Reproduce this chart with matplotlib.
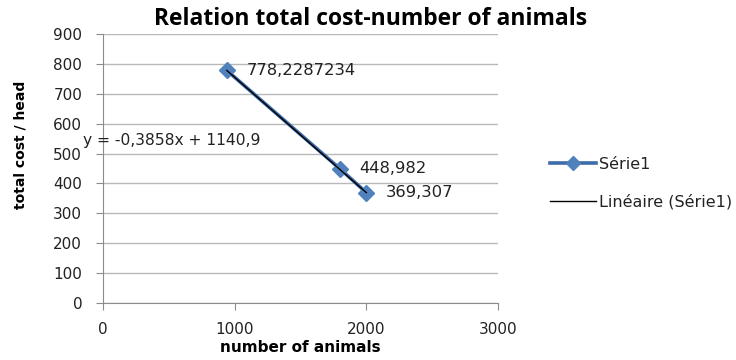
import numpy as np
import matplotlib
matplotlib.use("Agg")
import matplotlib.pyplot as plt
from matplotlib.lines import Line2D

plt.rcParams['font.family'] = ['DejaVu Sans']

# data
animals = [940, 1800, 2000]
cost = [778.2287234, 448.982, 369.307]
labels = ["778,2287234", "448,982", "369,307"]
slope = -0.3858
intercept = 1140.9
xticks = [0, 1000, 2000, 3000]
yticks = [0, 100, 200, 300, 400, 500, 600, 700, 800, 900]

blue = "#4f81bd"
line_blue = "#3d6ca8"
txt = "#222222"

W, H = 736, 360
fig = plt.figure(figsize=(W / 100, H / 100), dpi=100)
ax = fig.add_axes([103 / W, 1 - 303 / H, 395 / W, 269 / H])

# trend line (linear fit) drawn over the series
tx = np.array([min(animals), max(animals)])
ax.plot(tx, slope * tx + intercept, color="black", lw=1, zorder=4)
ax.plot(animals, cost, color=line_blue, lw=2.6, marker="D", ms=8,
        mfc=blue, mec=blue, zorder=3)

for x, y, t in zip(animals, cost, labels):
    ax.annotate(t, (x, y), xytext=(14, 0), textcoords="offset points",
                fontsize=11.8, color=txt, va="center")

ax.text(-152, 543, "y = -0,3858x + 1140,9", fontsize=11.2, color=txt,
        va="center", ha="left", zorder=5)

ax.set_xlim(0, 3000)
ax.set_ylim(0, 900)
ax.set_xticks(xticks)
ax.set_yticks(yticks)
ax.grid(axis="y", color="#b8b8b8", lw=1)
ax.set_axisbelow(True)
for s in ["top", "right"]:
    ax.spines[s].set_visible(False)
for s in ["left", "bottom"]:
    ax.spines[s].set_color("#8c8c8c")
ax.tick_params(colors="#8c8c8c", labelcolor=txt, labelsize=11, length=5)
ax.tick_params(axis="y", pad=10)
ax.tick_params(axis="x", pad=9)

fig.text(371 / W, 1 - 19 / H, "Relation total cost-number of animals",
         fontsize=16.5, fontweight="bold", family="Open Sans",
         ha="center", va="center")
fig.text(300 / W, 1 - 348 / H, "number of animals", fontsize=11,
         fontweight="bold", ha="center", va="center")
fig.text(21 / W, 1 - 145 / H, "total cost / head", fontsize=10,
         fontweight="bold", ha="center", va="center", rotation=90)

handles = [Line2D([], [], color=line_blue, lw=2.6, marker="D", ms=7,
                  mfc=blue, mec=blue),
           Line2D([], [], color="black", lw=1)]
fig.legend(handles, ["Série1", "Linéaire (Série1)"], loc="center left",
           bbox_to_anchor=(550 / W, 1 - 183 / H), frameon=False, fontsize=11.5,
           handlelength=2.9, handletextpad=0.15, labelspacing=1.4,
           borderpad=0, borderaxespad=0, labelcolor=txt)

fig.savefig("out.png", dpi=100)
